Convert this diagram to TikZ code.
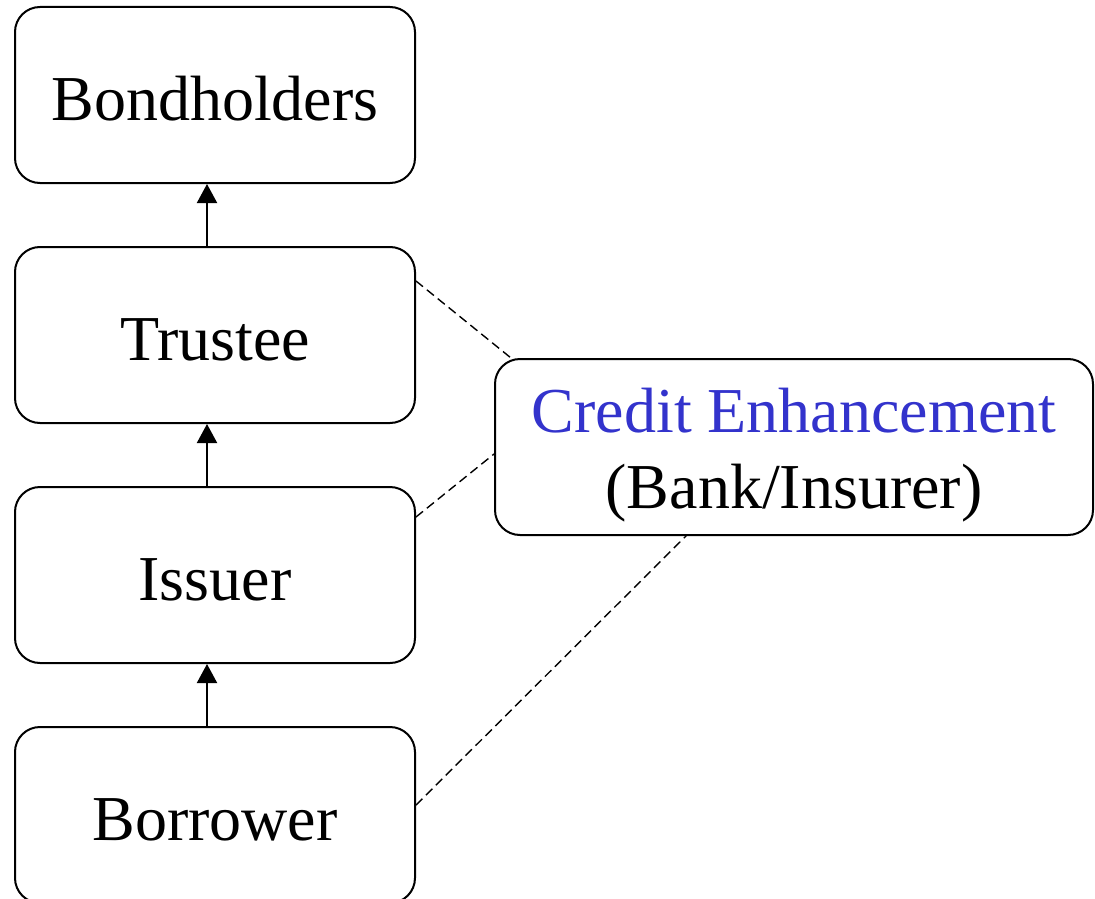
\documentclass[tikz,border=0pt]{standalone}
\usepackage{fontspec}
\setmainfont{Liberation Serif}
\usetikzlibrary{arrows.meta,calc}
\definecolor{ceblue}{RGB}{51,51,204}
\begin{document}
\begin{tikzpicture}[x=1pt,y=-1pt,
  party/.style={draw, line width=2pt, rounded corners=25pt,
    minimum width=400pt, minimum height=176pt, inner sep=0pt,
    text height=50pt, text depth=0pt,
    font=\fontsize{64}{76}\selectfont},
  flow/.style={line width=2pt, -{Triangle[length=19pt,width=20pt]}},
  link/.style={line width=1.4pt, dash pattern=on 9pt off 5pt}]
  \useasboundingbox (0,0) rectangle (1095,899);
  \clip (0,0) rectangle (1095,899);

  % chain of parties
  \node[party] (bond) at (215,95)  {Bondholders};
  \node[party] (trustee) at (215,335) {Trustee};
  \node[party] (issuer) at (215,575) {Issuer};
  \node[party] (borrower) at (215,815) {Borrower};

  % credit enhancement provider (two lines, set a little low in the box)
  \node[party, minimum width=598pt, text height=, text depth=] (credit) at (794,447)
    {\raisebox{0pt}[\dimexpr\height+16pt\relax][\depth]{%
      \begin{tabular}{@{}c@{}}\textcolor{ceblue}{Credit Enhancement}\\(Bank/Insurer)\end{tabular}}};

  % upward flows
  \draw[flow] ([xshift=-8pt]borrower.north) -- ([xshift=-8pt]issuer.south);
  \draw[flow] ([xshift=-8pt]issuer.north) -- ([xshift=-8pt]trustee.south);
  \draw[flow] ([xshift=-8pt]trustee.north) -- ([xshift=-8pt]bond.south);

  % support links to the enhancement provider
  \coordinate (t1) at ($(trustee.north east)+(0,35)$);
  \coordinate (c1) at ($(credit.north west)+(17,0)$);
  \coordinate (i1) at ($(issuer.north east)+(0,31)$);
  \coordinate (c2) at ($(credit.north west)+(0,96)$);
  \coordinate (b1) at ($(borrower.north east)+(0,79)$);
  \coordinate (c3) at ($(credit.south west)+(192,0)$);
  \draw[link] (t1) -- (c1);
  \draw[link] (i1) -- (c2);
  \draw[link] (b1) -- (c3);
\end{tikzpicture}
\end{document}
